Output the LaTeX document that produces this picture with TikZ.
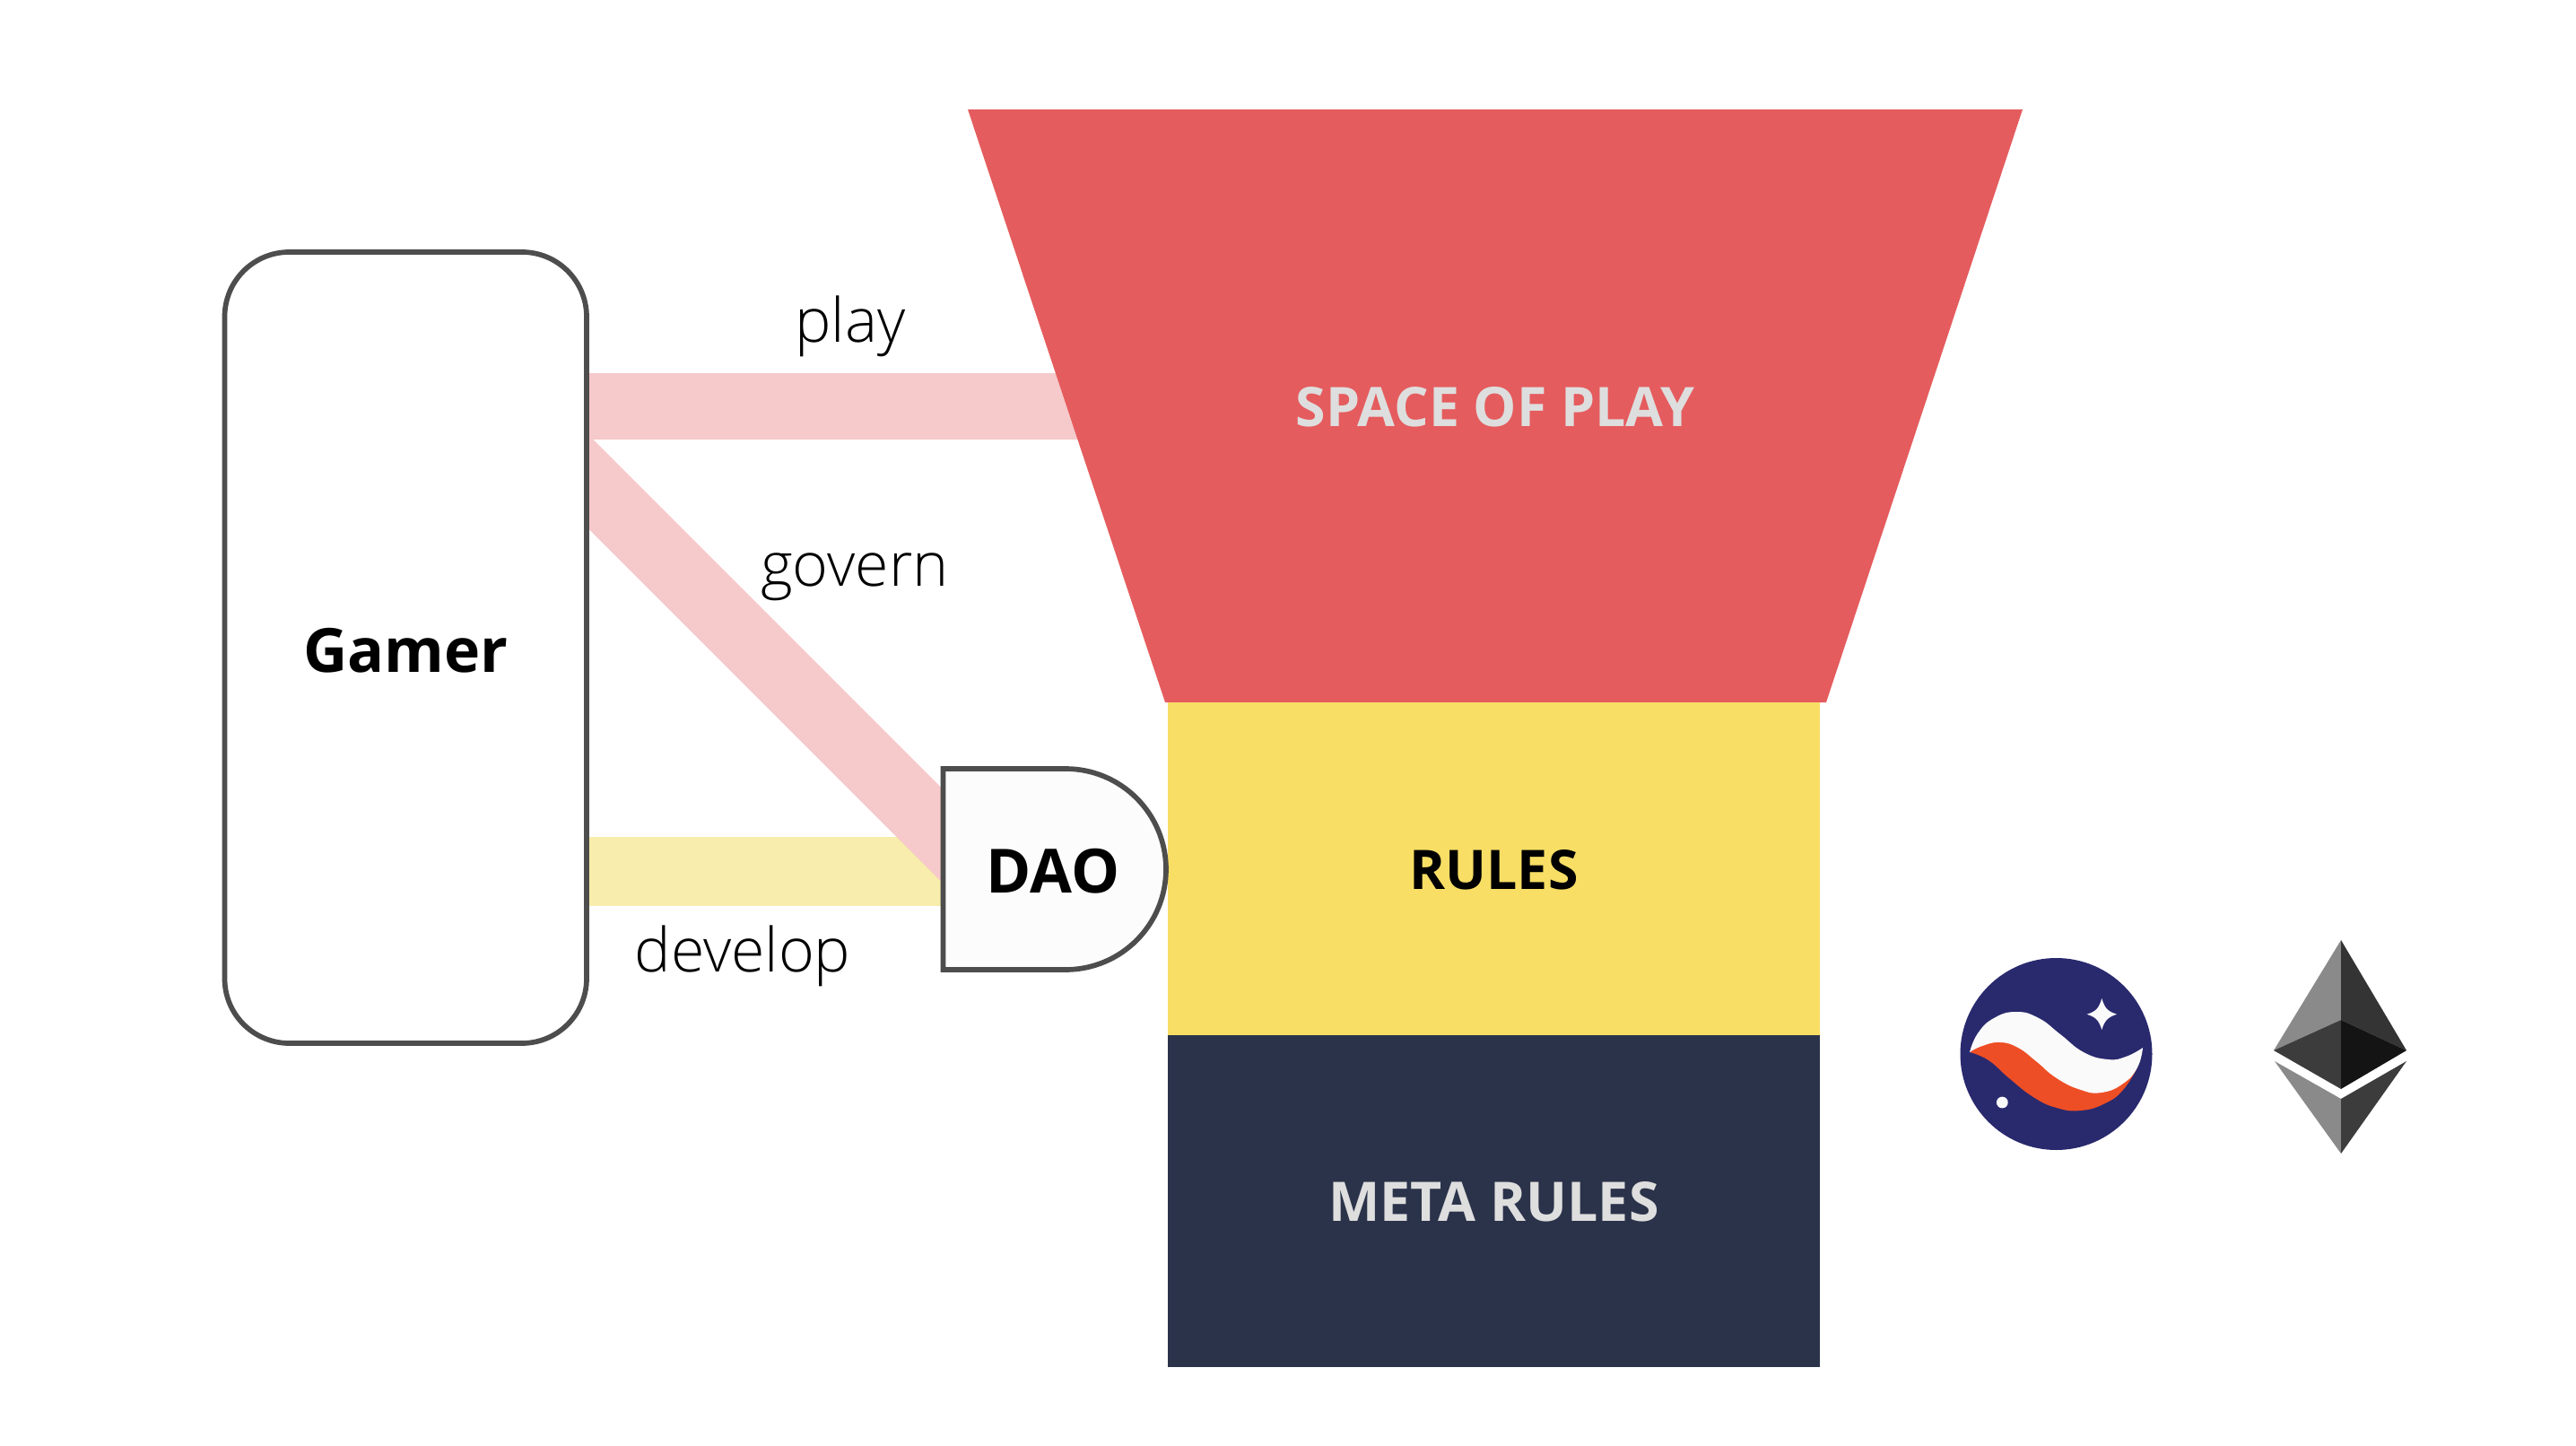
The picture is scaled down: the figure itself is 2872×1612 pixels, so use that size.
\documentclass[tikz,border=0pt]{standalone}
\usepackage{fontspec}
\setmainfont{Open Sans}
\newfontfamily\lightfont{Open Sans Light}
\usetikzlibrary{positioning,backgrounds}

\definecolor{spacered}{HTML}{E55C5E}
\definecolor{rulesyellow}{HTML}{F8DE65}
\definecolor{metanavy}{HTML}{2B334A}
\definecolor{bandpink}{HTML}{F6C9CA}
\definecolor{bandyellow}{HTML}{F8EDAC}
\definecolor{outline}{HTML}{4D4D4D}
\definecolor{paletext}{HTML}{DEDEDE}
\definecolor{starkblue}{HTML}{29296E}
\definecolor{starkorange}{HTML}{EE4E25}
\definecolor{starkwhite}{HTML}{FAFAFA}
\definecolor{ethlight}{HTML}{8A8A8A}
\definecolor{ethmid}{HTML}{3C3C3C}
\definecolor{ethdark}{HTML}{343434}
\definecolor{ethblack}{HTML}{141414}

\tikzset{
    actor/.style = {draw=outline, line width=2.85pt, fill=white, rounded corners=36pt,
        minimum width=201.75pt, minimum height=441pt, text height=27.4pt, text depth=0pt,
        font=\fontsize{34}{40}\selectfont\bfseries},
    tier/.style = {rectangle, inner sep=0pt, outer sep=0pt, minimum width=363.5pt,
        text height=23.2pt, text depth=0pt, font=\fontsize{30.4}{36}\selectfont\bfseries},
    verb/.style = {inner sep=0pt, font=\fontsize{34}{40}\selectfont\lightfont},
    band/.style = {line width=37pt, draw=bandpink},
}

\begin{document}
\begin{tikzpicture}[x=0.5pt, y=-0.5pt]
    \useasboundingbox (0,0) rectangle (2872,1612);

    \node [actor] (gamer) at (452.25,722) {Gamer};

    \node [tier, minimum width=588pt, minimum height=330.5pt, text=paletext] (space) at (1667,452.5) {SPACE OF PLAY};
    \node [tier, fill=rulesyellow, minimum height=185.25pt, below=0pt of space, xshift=-0.75pt] (rules) {RULES};
    \node [tier, fill=metanavy, text=paletext, minimum height=185.25pt, below=0pt of rules] (metarules) {META RULES};

    % the D shaped box
    \draw [draw=outline, line width=2.85pt, fill=white!99!black] (1051.5,857) -- (1188,857)
        arc [start angle=90, end angle=-90, radius=56pt] -- (1051.5,1081) -- cycle;
    \node [inner sep=0pt, font=\fontsize{34}{40}\selectfont\bfseries] (dao) at (1174,971) {DAO};

    \coordinate (govstart) at (600,481);
    \coordinate (govend) at (1100,981);

    \begin{scope}[on background layer]
        \draw [band] (gamer.center |- space.center) -- (space.center);
        \draw [band, line width=38.5pt, draw=bandyellow] (gamer.center |- dao.center) -- (dao.center);
        \draw [band] (govstart) -- (govend);
        \fill [spacered] (space.north west) -- (space.north east)
            -- ([xshift=-109.5pt]space.south east) -- ([xshift=110pt]space.south west) -- cycle;
    \end{scope}

    \node [verb] (play) at (948,364) {play};
    \node [verb] (govern) at (953,643) {govern};
    \node [verb] (develop) at (828,1066) {develop};

    % Starknet logo
    \fill [starkblue] (2292.5,1175) circle [radius=53.5pt];
    \fill [starkorange] plot [smooth, tension=0.8] coordinates {(2196,1173) (2217,1182) (2240,1202) (2267,1223)
        (2293,1235) (2320,1238) (2347,1230) (2367,1215) (2383,1190)}
        -- (2343,1200) -- (2293,1170) -- (2230,1150) -- cycle;
    \fill [starkwhite] plot [smooth, tension=0.8] coordinates {(2196,1173) (2205,1152) (2223,1135) (2248,1128)
        (2273,1135) (2297,1153) (2323,1173) (2350,1181) (2370,1178) (2389,1168)}
        -- plot [smooth, tension=0.8] coordinates {(2389,1168) (2383,1190) (2367,1208) (2343,1218) (2320,1215)
        (2293,1202) (2270,1183) (2250,1168) (2230,1162) (2210,1166) (2196,1173)} -- cycle;
    \fill [starkwhite] (2343.3,1113) .. controls (2346.5,1124) and (2350,1127.5) .. (2360,1130.7)
        .. controls (2350,1134) and (2346.5,1137.5) .. (2343.3,1148)
        .. controls (2340,1137.5) and (2337,1134) .. (2326.7,1130.7)
        .. controls (2337,1127.5) and (2340,1124) .. (2343.3,1113) -- cycle;
    \fill [starkwhite] (2232.3,1229) circle [radius=3.2pt];

    % Ethereum logo
    \fill [ethlight] (2610,1048) -- (2535,1171) -- (2610,1137) -- cycle;
    \fill [ethdark] (2610,1048) -- (2683,1171) -- (2610,1137) -- cycle;
    \fill [ethmid] (2535,1171) -- (2610,1137) -- (2610,1214) -- cycle;
    \fill [ethblack] (2683,1171) -- (2610,1137) -- (2610,1214) -- cycle;
    \fill [ethlight] (2536,1183) -- (2610,1225) -- (2610,1286) -- cycle;
    \fill [ethmid] (2683,1183) -- (2610,1225) -- (2610,1286) -- cycle;
\end{tikzpicture}
\end{document}
